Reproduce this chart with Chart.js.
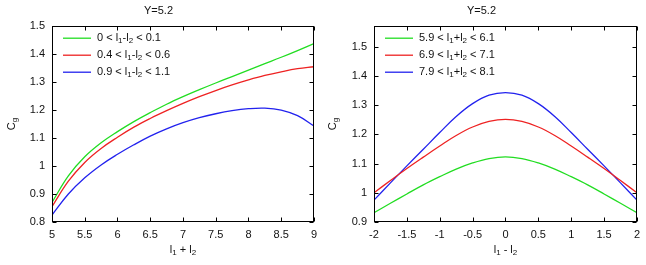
<!DOCTYPE html>
<html>
<head>
<meta charset="utf-8">
<script src="https://cdn.jsdelivr.net/npm/chart.js@4/dist/chart.umd.min.js"></script>
<style>
    html, body { margin: 0; padding: 0; background: #fff; }
    .panel { position: absolute; top: 0; width: 323px; height: 265px; }
</style>
</head>
<body>
<div class="panel" style="left:0"><canvas id="sumChart" width="323" height="265"></canvas></div>
<div class="panel" style="left:323px"><canvas id="diffChart" width="323" height="265"></canvas></div>
<script>
// Left panel: C_g against l1 + l2
const sumX = [5, 5.25, 5.5, 5.75, 6, 6.25, 6.5, 6.75, 7, 7.25, 7.5, 7.75, 8, 8.25, 8.5, 8.75, 9];
const cgDiff0 = [0.870, 0.965, 1.033, 1.083, 1.123, 1.159, 1.191, 1.221, 1.248, 1.273, 1.297, 1.320, 1.343, 1.366, 1.389, 1.413, 1.438];
const cgDiff05 = [0.855, 0.946, 1.013, 1.063, 1.103, 1.139, 1.170, 1.198, 1.224, 1.248, 1.270, 1.290, 1.308, 1.324, 1.337, 1.348, 1.355];
const cgDiff1 = [0.825, 0.900, 0.958, 1.004, 1.042, 1.076, 1.107, 1.133, 1.155, 1.173, 1.187, 1.198, 1.205, 1.207, 1.200, 1.180, 1.143];
const sumLabels = ['0 < l_1-l_2 < 0.1', '0.4 < l_1-l_2 < 0.6', '0.9 < l_1-l_2 < 1.1'];
const sumXTicks = [5, 5.5, 6, 6.5, 7, 7.5, 8, 8.5, 9];
const sumYTicks = [0.8, 0.9, 1, 1.1, 1.2, 1.3, 1.4, 1.5];

// Right panel: C_g against l1 - l2
const diffX = [-2, -1.75, -1.5, -1.25, -1, -0.75, -0.5, -0.25, 0, 0.25, 0.5, 0.75, 1, 1.25, 1.5, 1.75, 2];
const cgSum6 = [0.932, 0.964, 0.996, 1.027, 1.055, 1.081, 1.102, 1.117, 1.123, 1.117, 1.102, 1.081, 1.055, 1.027, 0.996, 0.964, 0.932];
const cgSum7 = [1.000, 1.042, 1.083, 1.122, 1.160, 1.196, 1.225, 1.244, 1.251, 1.244, 1.225, 1.196, 1.160, 1.122, 1.083, 1.042, 1.000];
const cgSum8 = [0.975, 1.034, 1.092, 1.149, 1.206, 1.261, 1.305, 1.334, 1.343, 1.334, 1.305, 1.261, 1.206, 1.149, 1.092, 1.034, 0.975];
const diffLabels = ['5.9 < l_1+l_2 < 6.1', '6.9 < l_1+l_2 < 7.1', '7.9 < l_1+l_2 < 8.1'];
const diffXTicks = [-2, -1.5, -1, -0.5, 0, 0.5, 1, 1.5, 2];
const diffYTicks = [0.9, 1, 1.1, 1.2, 1.3, 1.4, 1.5];

const lineColors = ['#22dd22', '#ee2222', '#2222ee'];
const FONT = "'Liberation Sans', Arial, sans-serif";
const TEXT = '#111';

Chart.defaults.font.family = FONT;
Chart.defaults.font.size = 11;
Chart.defaults.color = TEXT;

// "l_1" -> l with subscript 1
function richParts(str) {
    const parts = [];
    for (let i = 0; i < str.length; i++) {
        if (str[i] === '_' && i + 1 < str.length) {
            parts.push({ t: str[i + 1], sub: true });
            i++;
        } else {
            const last = parts[parts.length - 1];
            if (last && !last.sub) last.t += str[i];
            else parts.push({ t: str[i], sub: false });
        }
    }
    return parts;
}

function drawRich(ctx, str, x, y, align) {
    const parts = richParts(str);
    let w = 0;
    parts.forEach(p => {
        ctx.font = (p.sub ? 8 : 11) + 'px ' + FONT;
        p.w = ctx.measureText(p.t).width;
        w += p.w;
    });
    let cx = align === 'center' ? x - w / 2 : x;
    ctx.textAlign = 'left';
    ctx.textBaseline = 'middle';
    parts.forEach(p => {
        ctx.font = (p.sub ? 8 : 11) + 'px ' + FONT;
        ctx.fillText(p.t, cx, p.sub ? y + 3 : y);
        cx += p.w;
    });
}

// gnuplot look: boxed plot, inward ticks on all sides, legend inside, subscripted titles
const gnuplotFrame = {
    id: 'gnuplotFrame',
    afterDatasetsDraw(chart, args, opts) {
        const { ctx, chartArea: a, scales } = chart;
        ctx.save();
        const L = Math.round(a.left) + 0.5, R = Math.round(a.right) - 0.5;
        const T = Math.round(a.top) + 0.5, B = Math.round(a.bottom) - 0.5;
        ctx.strokeStyle = '#000';
        ctx.lineWidth = 1;
        ctx.strokeRect(L, T, R - L, B - T);
        ctx.beginPath();
        scales.x.ticks.forEach(t => {
            const px = Math.round(scales.x.getPixelForValue(t.value)) + 0.5;
            ctx.moveTo(px, B); ctx.lineTo(px, B - 4);
            ctx.moveTo(px, T); ctx.lineTo(px, T + 4);
        });
        scales.y.ticks.forEach(t => {
            const py = Math.round(scales.y.getPixelForValue(t.value)) + 0.5;
            ctx.moveTo(L, py); ctx.lineTo(L + 4, py);
            ctx.moveTo(R, py); ctx.lineTo(R - 4, py);
        });
        ctx.stroke();

        // legend
        chart.data.datasets.forEach((ds, i) => {
            const y = a.top + 12 + i * 17;
            ctx.strokeStyle = ds.borderColor;
            ctx.lineWidth = ds.borderWidth;
            ctx.beginPath();
            ctx.moveTo(a.left + 11, y);
            ctx.lineTo(a.left + 39, y);
            ctx.stroke();
            ctx.fillStyle = TEXT;
            drawRich(ctx, ds.label, a.left + 45, y, 'left');
        });

        // axis titles
        ctx.fillStyle = TEXT;
        drawRich(ctx, opts.xTitle, (a.left + a.right) / 2, 250, 'center');
        ctx.translate(opts.yTitleX, (a.top + a.bottom) / 2);
        ctx.rotate(-Math.PI / 2);
        drawRich(ctx, opts.yTitle, 0, 0, 'center');
        ctx.restore();
    }
};

function makeChart(id, xs, series, labels, xTicks, yTicks, yMin, yMax, xTitle, yAxisWidth, yTitleX) {
    const ctx = document.getElementById(id).getContext('2d');
    return new Chart(ctx, {
        type: 'line',
        data: {
            datasets: series.map((ys, i) => ({
                label: labels[i],
                data: xs.map((x, j) => ({ x: x, y: ys[j] })),
                borderColor: lineColors[i],
                borderWidth: 1.3,
                pointRadius: 0,
                fill: false,
                tension: 0.4
            }))
        },
        options: {
            responsive: false,
            animation: false,
            devicePixelRatio: 1,
            layout: { padding: { left: 0, right: 6, top: 0, bottom: 0 } },
            plugins: {
                legend: { display: false },
                tooltip: { enabled: false },
                title: {
                    display: true,
                    text: 'Y=5.2',
                    color: TEXT,
                    font: { size: 11, weight: 'normal' },
                    padding: { top: 4, bottom: 9 }
                },
                gnuplotFrame: { xTitle: xTitle, yTitle: 'C_g', yTitleX: yTitleX }
            },
            scales: {
                x: {
                    type: 'linear',
                    min: xTicks[0],
                    max: xTicks[xTicks.length - 1],
                    grid: { display: false, drawTicks: false },
                    border: { display: false },
                    afterBuildTicks: s => { s.ticks = xTicks.map(v => ({ value: v })); },
                    afterFit: s => { s.height = 43; },
                    ticks: { padding: 6, maxRotation: 0, autoSkip: false, callback: v => String(v) }
                },
                y: {
                    type: 'linear',
                    min: yMin,
                    max: yMax,
                    grid: { display: false, drawTicks: false },
                    border: { display: false },
                    afterBuildTicks: s => { s.ticks = yTicks.map(v => ({ value: v })); },
                    afterFit: s => { s.width = yAxisWidth; },
                    ticks: { padding: 7, autoSkip: false, callback: v => String(v) }
                }
            }
        },
        plugins: [gnuplotFrame]
    });
}

makeChart('sumChart', sumX, [cgDiff0, cgDiff05, cgDiff1], sumLabels,
    sumXTicks, sumYTicks, 0.8, 1.5, 'l_1 + l_2', 52, 12);
makeChart('diffChart', diffX, [cgSum6, cgSum7, cgSum8], diffLabels,
    diffXTicks, diffYTicks, 0.9, 1.57, 'l_1 - l_2', 51, 10);
</script>
</body>
</html>
